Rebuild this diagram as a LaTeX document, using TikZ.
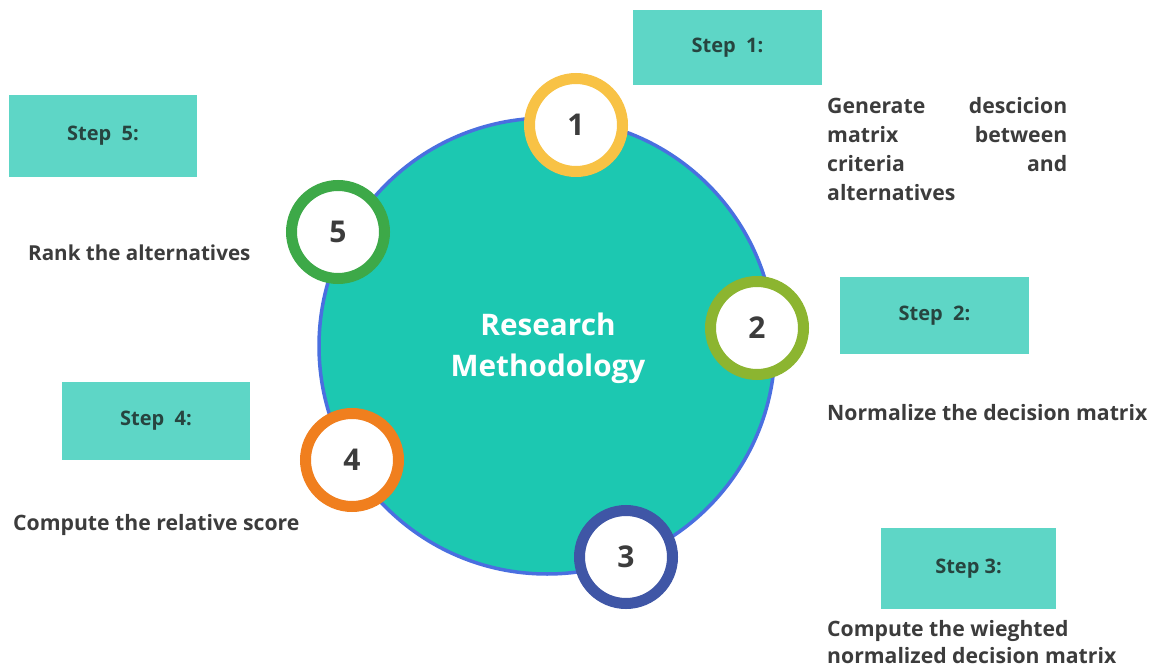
\documentclass[tikz,border=0pt]{standalone}
\usepackage{fontspec}
\setmainfont{Open Sans}
\definecolor{bigfill}{HTML}{1CC8B1}
\definecolor{bigborder}{HTML}{4A6FE0}
\definecolor{boxfill}{HTML}{5ED6C6}
\definecolor{ringA}{HTML}{F8C245}
\definecolor{ringB}{HTML}{8CB530}
\definecolor{ringC}{HTML}{3F56A6}
\definecolor{ringD}{HTML}{F07F1E}
\definecolor{ringE}{HTML}{3DA948}
\definecolor{txtdark}{HTML}{3C3C3C}
\definecolor{steptxt}{HTML}{27443F}
\tikzset{
  ring/.style={circle, draw=#1, line width=11pt, fill=white, minimum size=93pt, inner sep=0pt,
    font=\bfseries\fontsize{30}{32}\selectfont, text=txtdark},
  stepbox/.style={fill=boxfill, draw=none, inner sep=0pt, font=\bfseries\fontsize{20}{24}\selectfont, text=steptxt},
  desc/.style={font=\bfseries\fontsize{21.2}{29}\selectfont, text=txtdark, inner sep=0pt}
}
\begin{document}
\begin{tikzpicture}[x=1pt,y=-1pt]
\useasboundingbox (0,0) rectangle (1158,671);
% big circle
\node[circle, fill=bigfill, draw=bigborder, line width=3.5pt, minimum size=456pt, inner sep=0pt] (main) at (547,346) {};
\node[text=white, font=\bfseries\fontsize{29.7}{41}\selectfont, align=center, inner sep=0pt] (title) at (548,348) {Research\\Methodology};
% rings
\node[ring=ringA] (c1) at (576,125) {1};
\node[ring=ringB] (c2) at (757,328) {2};
\node[ring=ringC] (c3) at (626,557) {3};
\node[ring=ringD] (c4) at (352,460) {4};
\node[ring=ringE] (c5) at (338,232) {5};
% step boxes
\node[stepbox, minimum width=189pt, minimum height=75pt] (s1) at (727.5,47.5) {Step\ \ 1:};
\node[stepbox, minimum width=189pt, minimum height=77pt] (s2) at (934.5,315.5) {Step\ \ 2:};
\node[stepbox, minimum width=175pt, minimum height=81pt] (s3) at (968.5,568.5) {Step 3:};
\node[stepbox, minimum width=188pt, minimum height=78pt] (s4) at (156,421) {Step\ \ 4:};
\node[stepbox, minimum width=188pt, minimum height=82pt] (s5) at (103,136) {Step\ \ 5:};
% descriptions
\node[desc, anchor=north west, text width=240pt, align=left] (d1) at (827,97)
  {Generate\hfill descicion\\matrix\hfill between\\criteria\hfill and\\alternatives};
\node[desc, anchor=west] (d2) at (827,413) {Normalize the decision matrix};
\node[desc, anchor=north west, align=left, font=\bfseries\fontsize{21.2}{27}\selectfont] (d3) at (827,620) {Compute the wieghted\\normalized decision matrix};
\node[desc, anchor=west] (d4) at (13,525) {Compute the relative score};
\node[desc, anchor=west, font=\bfseries\fontsize{20.6}{29}\selectfont] (d5) at (28,253) {Rank the alternatives};
\end{tikzpicture}
\end{document}
